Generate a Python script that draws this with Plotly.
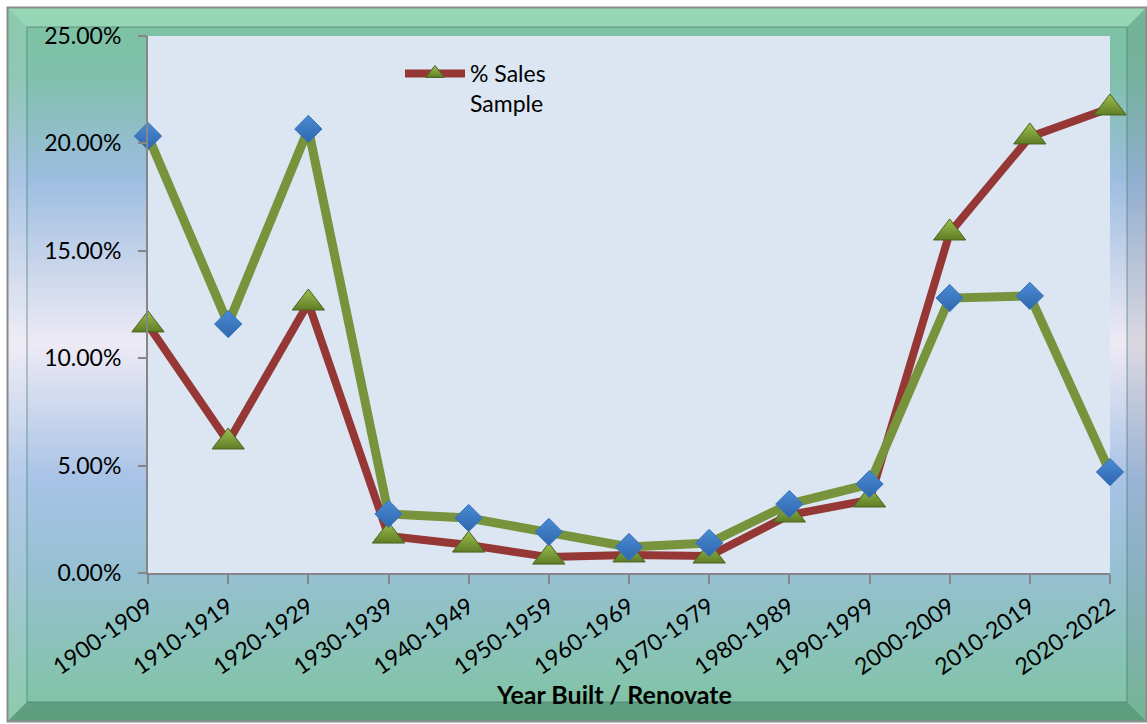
import base64
import plotly.graph_objects as go

# Decade buckets of construction / renovation year
decades = ["1900-1909", "1910-1919", "1920-1929", "1930-1939", "1940-1949",
           "1950-1959", "1960-1969", "1970-1979", "1980-1989", "1990-1999",
           "2000-2009", "2010-2019", "2020-2022"]

# Share of sales per decade (fractions)
pct_sales = [0.1155, 0.0610, 0.1257, 0.0172, 0.0130, 0.0074, 0.0084,
             0.0079, 0.0270, 0.0340, 0.1583, 0.2030, 0.2165]

# Share of the sample per decade (fractions)
pct_sample = [0.2034, 0.1159, 0.2067, 0.0275, 0.0256, 0.0191, 0.0121,
              0.0140, 0.0321, 0.0414, 0.1280, 0.1290, 0.0470]

y_ticks = [0, 0.05, 0.10, 0.15, 0.20, 0.25]

W, H = 1147, 724
ML, MR, MT, MB = 148, 37, 36, 151
PW, PH = W - ML - MR, H - MT - MB

FONT = "Lato, 'Noto Sans', sans-serif"
TICK_SIZE = 23

# Chart-area backdrop: vertical green/blue/white gradient with a bevelled frame
svg = f"""<svg xmlns='http://www.w3.org/2000/svg' width='{W}' height='{H}' viewBox='0 0 {W} {H}'>
<defs>
<linearGradient id='g' x1='0' y1='0' x2='0' y2='1'>
<stop offset='0' stop-color='#7cc3a2'/>
<stop offset='0.10' stop-color='#80c0ac'/>
<stop offset='0.24' stop-color='#9dbde0'/>
<stop offset='0.47' stop-color='#eeeaf5'/>
<stop offset='0.66' stop-color='#a8c3e6'/>
<stop offset='0.79' stop-color='#96c0d2'/>
<stop offset='1' stop-color='#7ec4a0'/>
</linearGradient>
</defs>
<rect x='0' y='0' width='{W}' height='{H}' fill='#ffffff'/>
<rect x='7' y='7' width='{W-7}' height='{H-9}' fill='url(#g)'/>
<polygon points='7,7 {W},7 {W-20},27 27,27' fill='#b6f0cf' fill-opacity='0.45'/>
<polygon points='7,7 27,27 27,{H-22} 7,{H-2}' fill='#ffffff' fill-opacity='0.12'/>
<polygon points='{W},7 {W},{H-2} {W-20},{H-22} {W-20},27' fill='#000000' fill-opacity='0.08'/>
<polygon points='7,{H-2} 27,{H-22} {W-20},{H-22} {W},{H-2}' fill='#1f5a40' fill-opacity='0.35'/>
<rect x='27' y='27' width='{W-47}' height='{H-49}' fill='none' stroke='#3f7a66' stroke-opacity='0.45' stroke-width='1.5'/>
<rect x='7.5' y='7.5' width='{W-8}' height='{H-10}' fill='none' stroke='#8c8c8c' stroke-width='2'/>
</svg>"""
bg_uri = "data:image/svg+xml;base64," + base64.b64encode(svg.encode()).decode()

fig = go.Figure()

fig.add_trace(go.Scatter(
    x=decades, y=pct_sales, mode="lines+markers",
    name="% Sales<br>Sample", showlegend=True, cliponaxis=False,
    line=dict(color="#953735", width=8),
    marker=dict(symbol="triangle-up", size=28, color="#9dbf4f",
                gradient=dict(type="vertical", color="#5f7d25"),
                line=dict(color="#4b6320", width=1)),
))

fig.add_trace(go.Scatter(
    x=decades, y=pct_sample, mode="lines+markers",
    name="Sample", showlegend=False, cliponaxis=False,
    line=dict(color="#77933c", width=9),
    marker=dict(symbol="diamond", size=21, color="#4a8ad4",
                gradient=dict(type="vertical", color="#2f67ad"),
                line=dict(color="#3a74b8", width=1)),
))

fig.update_layout(
    width=W, height=H,
    margin=dict(l=ML, r=MR, t=MT, b=MB, pad=0),
    paper_bgcolor="#ffffff",
    plot_bgcolor="rgba(0,0,0,0)",
    font=dict(family=FONT, size=TICK_SIZE, color="#000000"),
    showlegend=True,
    legend=dict(x=(400 - ML) / PW, y=1 - (52 - MT) / PH, xanchor="left", yanchor="top",
                bgcolor="rgba(0,0,0,0)", borderwidth=0, valign="top",
                itemwidth=60, font=dict(family=FONT, size=TICK_SIZE, color="#000000")),
    images=[dict(source=bg_uri, xref="paper", yref="paper",
                 x=-ML / PW, y=1 + MT / PH, sizex=W / PW, sizey=H / PH,
                 xanchor="left", yanchor="top", sizing="stretch", layer="below")],
    shapes=[dict(type="rect", xref="paper", yref="paper", x0=0, x1=1, y0=0, y1=1,
                 fillcolor="#dce6f2", line=dict(width=0), layer="below")],
    annotations=[dict(text="<b>Year Built / Renovate</b>", xref="paper", yref="paper",
                      x=(614 - ML) / PW, y=(MT + PH - 694) / PH,
                      xanchor="center", yanchor="middle", showarrow=False,
                      font=dict(family=FONT, size=25, color="#000000"))],
)

fig.update_xaxes(
    type="category", range=[0, len(decades) - 1],
    showline=True, linecolor="#868686", linewidth=2,
    ticks="outside", ticklen=9, tickcolor="#868686", tickwidth=2,
    tickangle=-35, showgrid=False, zeroline=False,
    tickfont=dict(family=FONT, size=TICK_SIZE, color="#000000"),
)

fig.update_yaxes(
    range=[0, 0.25], tickvals=y_ticks, tickformat=".2%",
    showline=True, linecolor="#868686", linewidth=2,
    ticks="outside", ticklen=8, tickcolor="#868686", tickwidth=2,
    ticklabelstandoff=12, showgrid=False, zeroline=False,
    tickfont=dict(family=FONT, size=TICK_SIZE, color="#000000"),
)

fig.write_html("out.html")
